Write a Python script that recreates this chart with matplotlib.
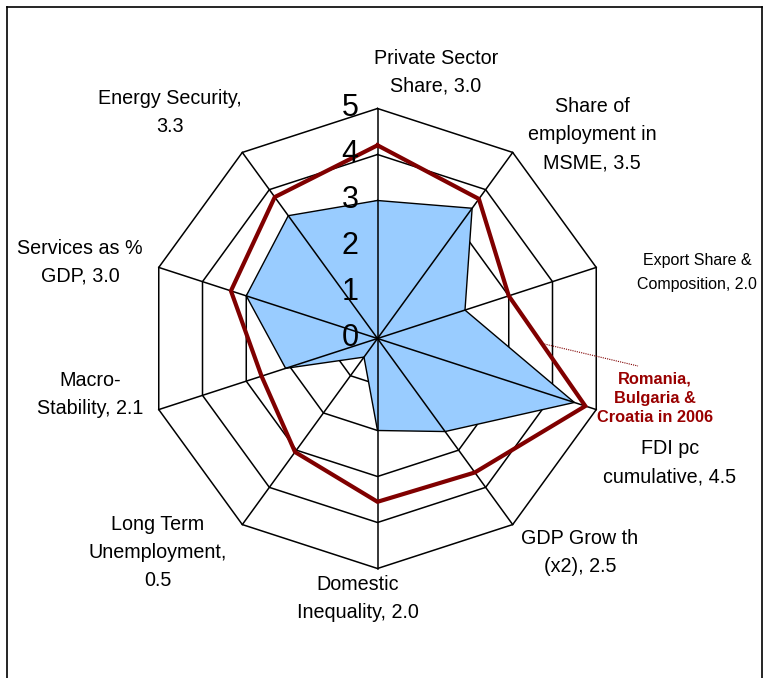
import numpy as np
import matplotlib
matplotlib.use("Agg")
import matplotlib.pyplot as plt
from matplotlib.lines import Line2D

plt.rcParams['font.family'] = ['Liberation Sans', 'DejaVu Sans']

# Data
categories = [
    "Private Sector\nShare, 3.0",
    "Share of\nemployment in\nMSME, 3.5",
    "Export Share &\nComposition, 2.0",
    "FDI pc\ncumulative, 4.5",
    "GDP Grow th\n(x2), 2.5",
    "Domestic\nInequality, 2.0",
    "Long Term\nUnemployment,\n0.5",
    "Macro-\nStability, 2.1",
    "Services as %\nGDP, 3.0",
    "Energy Security,\n3.3",
]
country_values = [3.0, 3.5, 2.0, 4.5, 2.5, 2.0, 0.5, 2.1, 3.0, 3.3]
benchmark_values = [4.2, 3.75, 3.0, 4.75, 3.6, 3.55, 3.05, 2.65, 3.35, 3.8]
benchmark_label = "Romania,\nBulgaria &\nCroatia in 2006"
ring_levels = [1, 2, 3, 4, 5]
tick_labels = ["0", "1", "2", "3", "4", "5"]

# Layout (pixels)
W, H = 765, 678
cx, cy = 377.5, 338.5
scale = 46.0  # pixels per unit

label_pos = [(436, 72), (592, 135), (697, 273), (670, 463), (580, 553),
             (358, 598), (158, 553), (90, 394), (80, 262), (170, 113)]


def px(x, y):
    return (x - cx) / scale, (cy - y) / scale


n = len(categories)
theta = np.arange(n) * 2 * np.pi / n


def to_xy(vals):
    vals = np.asarray(vals, dtype=float)
    x = vals * np.sin(theta)
    y = vals * np.cos(theta)
    return np.append(x, x[0]), np.append(y, y[0])


fig = plt.figure(figsize=(W / 100, H / 100), dpi=100)
ax = fig.add_axes([0, 0, 1, 1])
ax.set_xlim(-cx / scale, (W - cx) / scale)
ax.set_ylim(-(H - cy) / scale, cy / scale)
ax.axis("off")

# rings
for lev in ring_levels:
    x, y = to_xy([lev] * n)
    ax.plot(x, y, color="black", lw=1.1, zorder=1)

# country fill
x, y = to_xy(country_values)
ax.fill(x, y, facecolor="#99CCFF", edgecolor="black", lw=1.0, zorder=2)

# spokes
for t in theta:
    ax.plot([0, 5 * np.sin(t)], [0, 5 * np.cos(t)], color="black", lw=1.1, zorder=3)

# benchmark line
x, y = to_xy(benchmark_values)
ax.plot(x, y, color="#800000", lw=3.0, zorder=4, solid_joinstyle="miter")

# radial tick labels
for i, lab in enumerate(tick_labels):
    ax.text(-0.6, i, lab, fontsize=22, ha="center", va="center", zorder=5)

# category labels
for lab, (lx, ly) in zip(categories, label_pos):
    if lab.startswith("Export"):
        fs, ls = 11.5, 1.75
    else:
        fs, ls = 14.2, 1.6
    ax.text(*px(lx, ly), lab, fontsize=fs, ha="center", va="center",
            linespacing=ls, zorder=5)

# benchmark annotation
ax.plot(*zip(px(540, 343), px(638, 366)), color="#800000", lw=0.8,
        ls=(0, (1, 1)), zorder=5)
ax.text(*px(655, 398), benchmark_label, fontsize=11.8, fontweight="bold",
        color="#990000", ha="center", va="center", linespacing=1.35, zorder=5)

# outer frame
fig.add_artist(Line2D([7 / W, 7 / W], [0, 1 - 7 / H], color="black", lw=1.2))
fig.add_artist(Line2D([7 / W, 762 / W], [1 - 7 / H, 1 - 7 / H], color="black", lw=1.2))
fig.add_artist(Line2D([762 / W, 762 / W], [0, 1 - 7 / H], color="black", lw=1.2))

fig.savefig("out.png", dpi=100)
